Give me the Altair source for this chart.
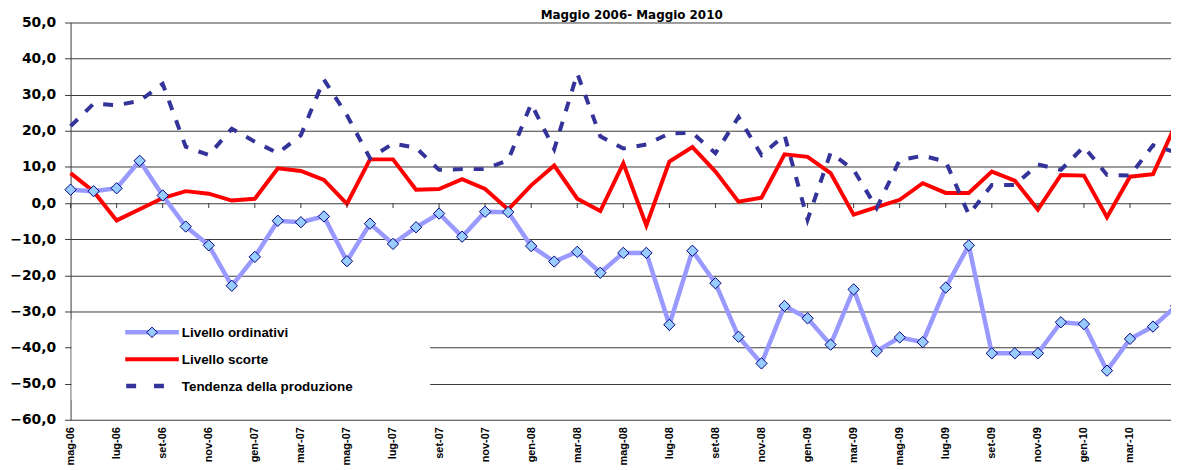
import json
import altair as alt
import pandas as pd

months = [
    "mag-06", "giu-06", "lug-06", "ago-06", "set-06", "ott-06", "nov-06", "dic-06",
    "gen-07", "feb-07", "mar-07", "apr-07", "mag-07", "giu-07", "lug-07", "ago-07",
    "set-07", "ott-07", "nov-07", "dic-07", "gen-08", "feb-08", "mar-08", "apr-08",
    "mag-08", "giu-08", "lug-08", "ago-08", "set-08", "ott-08", "nov-08", "dic-08",
    "gen-09", "feb-09", "mar-09", "apr-09", "mag-09", "giu-09", "lug-09", "ago-09",
    "set-09", "ott-09", "nov-09", "dic-09", "gen-10", "feb-10", "mar-10", "apr-10",
    "mag-10",
]

ordinativi = [3.7, 3.3, 4.1, 11.7, 2.1, -6.5, -11.7, -22.9, -14.9, -4.9, -5.3, -3.7,
              -16.1, -5.7, -11.3, -6.7, -2.9, -9.3, -2.4, -2.5, -11.9, -16.2, -13.5,
              -19.3, -13.8, -13.8, -33.7, -13.2, -22.2, -37.0, -44.4, -28.5, -31.9,
              -39.2, -23.9, -41.0, -37.2, -38.5, -23.4, -11.7, -41.6, -41.6, -41.6,
              -33.0, -33.5, -46.4, -37.6, -34.2, -28.5]

scorte = [8.3, 3.2, -4.8, -1.7, 1.4, 3.3, 2.6, 0.7, 1.2, 9.6, 8.9, 6.4, -0.2, 12.1,
          12.1, 3.7, 3.9, 6.6, 3.9, -1.8, 4.9, 10.4, 1.2, -2.2, 11.0, -6.2, 11.5, 15.5,
          8.7, 0.4, 1.5, 13.5, 12.8, 8.3, -3.2, -1.1, 0.9, 5.5, 2.8, 2.8, 8.7, 6.2,
          -1.8, 7.8, 7.6, -3.9, 7.3, 8.0, 22.0]

produzione = [21.3, 27.5, 27.1, 28.3, 33.0, 15.6, 13.3, 20.6, 17.0, 13.8, 18.8, 34.2,
              24.3, 12.4, 16.5, 15.3, 9.2, 9.4, 9.4, 11.9, 27.5, 14.9, 35.9, 18.5, 15.1,
              16.2, 19.3, 19.4, 13.8, 23.8, 13.3, 18.8, -4.6, 13.9, 9.2, -1.4, 11.9, 13.1,
              11.5, -3.2, 5.0, 5.0, 10.7, 9.2, 15.6, 7.8, 7.6, 16.0, 14.0]

series_names = ["Livello ordinativi", "Livello scorte", "Tendenza della produzione"]
title_text = "Maggio 2006- Maggio 2010"
y_ticks = list(range(-60, 51, 10))
x_ticks = list(range(0, 48, 2))

idx = list(range(len(months)))
df_ord = pd.DataFrame({"i": idx, "v": ordinativi})
df_sco = pd.DataFrame({"i": idx, "v": scorte})
df_pro = pd.DataFrame({"i": idx, "v": produzione})
df_ticks = pd.DataFrame({"i": x_ticks, "v": [0] * len(x_ticks)})
one = pd.DataFrame({"a": [0]})

label_expr = json.dumps(months) + "[datum.value]"

x_enc = alt.X(
    "i:Q",
    scale=alt.Scale(domain=[0, 47.78], nice=False, zero=False),
    axis=alt.Axis(
        values=x_ticks, labelExpr=label_expr, title=None, grid=False, ticks=False,
        domain=False, labelAngle=270, labelFont="Liberation Sans", labelFontWeight="bold",
        labelFontSize=11, labelColor="#000000", labelPadding=7, labelFlush=False,
        labelOverlap=False,
    ),
)
y_enc = alt.Y(
    "v:Q",
    scale=alt.Scale(domain=[-60, 50], nice=False, zero=False),
    axis=alt.Axis(
        values=y_ticks, title=None, grid=True, gridColor="#3a3a3a", gridWidth=1,
        domainColor="#3a3a3a", tickColor="#3a3a3a", tickSize=6, tickWidth=1,
        labelExpr="replace(format(datum.value, '.1f'), '.', ',')",
        labelFont="DejaVu Sans", labelFontWeight="bold", labelFontSize=14,
        labelColor="#000000", labelPadding=9, labelOverlap=False, labelFlush=False,
        tickCount=12,
    ),
)

sco = alt.Chart(df_sco).mark_line(color="#FF0000", strokeWidth=4).encode(x=x_enc, y=y_enc)
pro = alt.Chart(df_pro).mark_line(color="#333399", strokeWidth=4, strokeDash=[10, 11]).encode(
    x=x_enc, y=y_enc)
ord_line = alt.Chart(df_ord).mark_line(color="#9999FF", strokeWidth=4.5).encode(x=x_enc, y=y_enc)
ord_pts = alt.Chart(df_ord).mark_point(
    shape="diamond", size=130, filled=True, fill="#99CCFF", stroke="#000080",
    strokeWidth=1, opacity=1,
).encode(x=x_enc, y=y_enc)

zero_ticks = alt.Chart(df_ticks).mark_rule(color="#3a3a3a", strokeWidth=1, y2Offset=5).encode(
    x=x_enc, y=y_enc, y2="v:Q")

# legend
legend_box = alt.Chart(one).mark_rect(fill="white").encode(
    x=alt.value(1), x2=alt.value(362), y=alt.value(299), y2=alt.value(380))
leg_y = [312, 339, 366]
leg1_line = alt.Chart(one).mark_rule(color="#9999FF", strokeWidth=4.5).encode(
    x=alt.value(55), x2=alt.value(109), y=alt.value(leg_y[0]))
leg1_pt = alt.Chart(one).mark_point(
    shape="diamond", size=110, filled=True, fill="#99CCFF", stroke="#000080",
    strokeWidth=1, opacity=1).encode(x=alt.value(82), y=alt.value(leg_y[0]))
leg2_line = alt.Chart(one).mark_rule(color="#FF0000", strokeWidth=4).encode(
    x=alt.value(55), x2=alt.value(109), y=alt.value(leg_y[1]))
leg3_line = alt.Chart(one).mark_rule(color="#333399", strokeWidth=4.5, strokeDash=[10, 18]).encode(
    x=alt.value(56), x2=alt.value(95), y=alt.value(leg_y[2]))
leg_texts = [
    alt.Chart(one).mark_text(
        align="left", baseline="middle", font="Liberation Sans", fontWeight="bold",
        fontSize=13.5, color="#000000").encode(
        x=alt.value(112), y=alt.value(leg_y[k] + 1), text=alt.value(series_names[k]))
    for k in range(3)
]

title = alt.Chart(one).mark_text(
    align="center", baseline="alphabetic", font="DejaVu Sans", fontWeight="bold",
    fontSize=12, color="#000000").encode(
    x=alt.value(565), y=alt.value(-4), text=alt.value(title_text))

chart = alt.layer(
    sco, zero_ticks, pro, ord_line, ord_pts,
    legend_box, leg1_line, leg1_pt, leg2_line, leg3_line, *leg_texts, title,
).properties(
    width=1108, height=400,
    autosize=alt.AutoSizeParams(type="none"),
    padding={"left": 63, "top": 13, "right": 0, "bottom": 49},
    background="white",
).configure_view(stroke=None)

chart.save("out.html", embed_options={"renderer": "svg", "actions": False})
